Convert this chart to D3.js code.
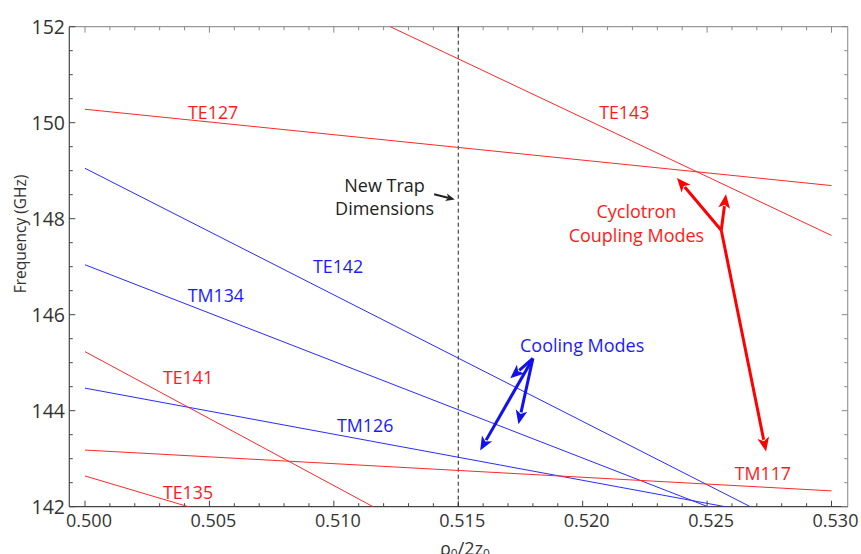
<!DOCTYPE html>
<html>
<head>
<meta charset="utf-8">
<script src="https://cdn.jsdelivr.net/npm/d3@7"></script>
<style>
  body { margin: 0; background: #fff; }
  text { font-family: "Open Sans", "Noto Sans", sans-serif; }
</style>
</head>
<body>
<svg id="chart" width="861" height="554"></svg>
<script>
// mode lines: frequency (GHz) at rho0/2z0 = 0.500 and at 0.530
const modes = ['TE127', 'TE143', 'TE142', 'TM134', 'TM126', 'TE141', 'TE135', 'TM117'];
const freqStart = [150.28, 155.01, 149.05, 147.04, 144.47, 145.23, 142.64, 143.18];
const freqEnd = [148.69, 147.65, 141.14, 141.0, 141.59, 136.86, 138.02, 142.33];
const modeType = ['red', 'red', 'blue', 'blue', 'blue', 'red', 'red', 'red'];

// label anchor points (data coordinates)
const labelX = [0.50515, 0.52167, 0.51017, 0.50526, 0.51126, 0.50414, 0.50414, 0.52724];
const labelY = [150.08, 150.07, 146.86, 146.26, 143.56, 144.56, 142.16, 142.56];

const xTicks = [0.500, 0.505, 0.510, 0.515, 0.520, 0.525, 0.530];
const yTicks = [142, 144, 146, 148, 150, 152];
const trapX = 0.515;

// annotations
const noteTrap = ['New Trap', 'Dimensions'];
const noteCool = ['Cooling Modes'];
const noteCyc = ['Cyclotron', 'Coupling Modes'];
const coolFrom = [0.51800, 145.09];
const coolTo = [[0.51709, 144.675], [0.51742, 143.72], [0.51588, 143.17]];
const cycFrom = [0.52557, 147.76];
const cycTo = [[0.52379, 148.85], [0.52576, 148.51], [0.52737, 143.15]];
const trapArrow = [[0.51403, 148.51], [0.51486, 148.40]];

const colors = { red: '#ff2828', blue: '#2a2aff' };

const svg = d3.select('#chart');
const x = d3.scaleLinear().domain([0.500, 0.530]).range([85, 831.5]);
const y = d3.scaleLinear().domain([142, 152]).range([506.7, 26.7]);
const fl = 69.3, fr = 847.7, ft = 26.7, fb = 506.7;

svg.append('clipPath').attr('id', 'clip')
  .append('rect').attr('x', fl).attr('y', ft)
  .attr('width', fr - fl).attr('height', fb - ft);

// frame
svg.append('line').attr('x1', fl).attr('x2', fr).attr('y1', ft).attr('y2', ft)
  .attr('stroke', '#999').attr('stroke-width', 1.2);
svg.append('line').attr('x1', fr).attr('x2', fr).attr('y1', ft).attr('y2', fb)
  .attr('stroke', '#999').attr('stroke-width', 1.2);
svg.append('line').attr('x1', fl).attr('x2', fl).attr('y1', ft).attr('y2', fb)
  .attr('stroke', '#444').attr('stroke-width', 1.2);
svg.append('line').attr('x1', fl).attr('x2', fr).attr('y1', fb).attr('y2', fb)
  .attr('stroke', '#444').attr('stroke-width', 1.2);

// ticks
const xMinor = d3.range(0, 31).map(i => 0.500 + i * 0.001);
const yMinor = d3.range(0, 21).map(i => 142 + i * 0.5);
const tickG = svg.append('g');
xMinor.forEach((v, i) => {
  const len = i % 5 === 0 ? 6 : 3.5;
  tickG.append('line').attr('x1', x(v)).attr('x2', x(v)).attr('y1', fb).attr('y2', fb - len)
    .attr('stroke', '#444');
  tickG.append('line').attr('x1', x(v)).attr('x2', x(v)).attr('y1', ft).attr('y2', ft + len)
    .attr('stroke', '#888');
});
yMinor.forEach((v, i) => {
  const len = i % 4 === 0 ? 6 : 3.5;
  tickG.append('line').attr('x1', fl).attr('x2', fl + len).attr('y1', y(v)).attr('y2', y(v))
    .attr('stroke', '#444');
  tickG.append('line').attr('x1', fr).attr('x2', fr - len).attr('y1', y(v)).attr('y2', y(v))
    .attr('stroke', '#888');
});

svg.append('g').selectAll('text').data(xTicks).enter().append('text')
  .attr('x', d => x(d) + 4).attr('y', 527)
  .attr('text-anchor', 'middle').attr('font-size', 18).attr('fill', '#333')
  .text(d => d3.format('.3f')(d));
svg.append('g').selectAll('text').data(yTicks).enter().append('text')
  .attr('x', 65).attr('y', d => y(d) + 7)
  .attr('text-anchor', 'end').attr('font-size', 19.5).attr('fill', '#333')
  .text(d => d);

// axis titles
svg.append('text').attr('transform', 'translate(26,234) rotate(-90)')
  .attr('text-anchor', 'middle').attr('font-size', 15.5).attr('fill', '#333')
  .text('Frequency (GHz)');
const xt = svg.append('text').attr('x', 465).attr('y', 555)
  .attr('text-anchor', 'middle').attr('font-size', 18).attr('fill', '#333');
xt.append('tspan').text('\u03c1');
xt.append('tspan').attr('font-size', 12).attr('dy', 3).text('0');
xt.append('tspan').attr('dy', -3).text('/2z');
xt.append('tspan').attr('font-size', 12).attr('dy', 3).text('0');

// trap line
svg.append('line').attr('x1', x(trapX)).attr('x2', x(trapX)).attr('y1', y(142)).attr('y2', y(152))
  .attr('stroke', '#222').attr('stroke-width', 1).attr('stroke-dasharray', '4,3');

// mode lines
const line = d3.line().x(d => x(d[0])).y(d => y(d[1]));
svg.append('g').attr('clip-path', 'url(#clip)').selectAll('path')
  .data(modes).enter().append('path')
  .attr('d', (d, i) => line([[0.500, freqStart[i]], [0.530, freqEnd[i]]]))
  .attr('fill', 'none').attr('stroke', (d, i) => colors[modeType[i]]).attr('stroke-width', 1);

svg.append('g').selectAll('text').data(modes).enter().append('text')
  .attr('x', (d, i) => x(labelX[i])).attr('y', (d, i) => y(labelY[i]))
  .attr('text-anchor', 'middle').attr('font-size', 17.8)
  .attr('fill', (d, i) => modeType[i] === 'red' ? '#ff1a1a' : '#1a1aff')
  .text(d => d);

// annotation texts
function note(lines, cx, cy, color, step) {
  lines.forEach((t, i) => {
    svg.append('text').attr('x', x(cx)).attr('y', y(cy) + i * step)
      .attr('text-anchor', 'middle').attr('font-size', 18).attr('fill', color).text(t);
  });
}
note(noteTrap, 0.51204, 148.56, '#222', 23.5);
note(noteCool, 0.51998, 145.23, '#1a1aff', 0);
note(noteCyc, 0.52216, 148.01, '#ff1a1a', 23.7);

function arrow(from, to, color, width, head) {
  const x1 = x(from[0]), y1 = y(from[1]), x2 = x(to[0]), y2 = y(to[1]);
  const a = Math.atan2(y2 - y1, x2 - x1);
  const bx = x2 - head * Math.cos(a), by = y2 - head * Math.sin(a);
  svg.append('line').attr('x1', x1).attr('y1', y1).attr('x2', bx + 2 * Math.cos(a)).attr('y2', by + 2 * Math.sin(a))
    .attr('stroke', color).attr('stroke-width', width);
  const w = head * 0.42;
  const pts = [
    [x2, y2],
    [bx + w * Math.sin(a), by - w * Math.cos(a)],
    [x2 - head * 0.75 * Math.cos(a), y2 - head * 0.75 * Math.sin(a)],
    [bx - w * Math.sin(a), by + w * Math.cos(a)]
  ];
  svg.append('polygon').attr('points', pts.map(p => p.join(',')).join(' ')).attr('fill', color);
}
arrow(trapArrow[0], trapArrow[1], '#222', 2, 9);
coolTo.forEach(t => arrow(coolFrom, t, '#1010f0', 3, 14));
cycTo.forEach(t => arrow(cycFrom, t, '#ff0000', 3, 14));
</script>
</body>
</html>
